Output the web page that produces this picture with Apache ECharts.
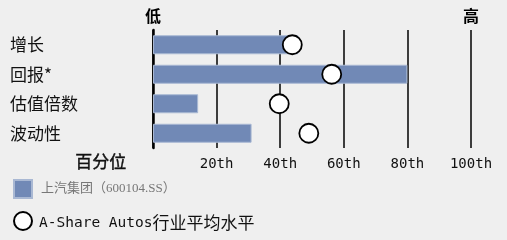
<!DOCTYPE html>
<html><head><meta charset="utf-8">
<script src="https://cdn.jsdelivr.net/npm/echarts@6/dist/echarts.min.js"></script>
<style>html,body{margin:0;padding:0;background:#efefef}#c{width:507px;height:240px}</style>
</head><body><div id="c"></div>
<script>
const categories = ['增长', '回报*', '估值倍数', '波动性'];
const companyValues = [45.7, 80, 14.2, 31];
const industryValues = [43.8, 56.2, 39.7, 49];
const tickLabels = {0: '', 20: '20th', 40: '40th', 60: '60th', 80: '80th', 100: '100th'};
const topLabels = {0: '低', 100: '高'};
const companyName = '上汽集团（600104.SS）';
const industryLatin = 'A-Share Autos';
const industryCjk = '行业平均水平';
const industryName = industryLatin + industryCjk;
const axisTitle = '百分位';

const chart = echarts.init(document.getElementById('c'));
chart.setOption({
  backgroundColor: '#efefef',
  animation: false,
  grid: {left: 153, right: 36, top: 30, bottom: 92},
  xAxis: [{
    type: 'value', min: 0, max: 100, interval: 20, position: 'bottom',
    axisLine: {show: false}, axisTick: {show: false},
    splitLine: {show: true, lineStyle: {color: '#000', width: 1.5}},
    axisLabel: {formatter: v => tickLabels[v] ?? '', color: '#111', fontSize: 14,
      fontFamily: 'DejaVu Sans Mono', margin: 9}
  }, {
    type: 'value', min: 0, max: 100, interval: 20, position: 'top',
    axisLine: {show: false}, axisTick: {show: false}, splitLine: {show: false},
    axisLabel: {formatter: v => topLabels[v] ?? '', color: '#000', fontSize: 16,
      fontWeight: 'bold', fontFamily: 'Noto Sans CJK SC', margin: 6}
  }],
  yAxis: {
    type: 'category', data: categories, inverse: true,
    axisLine: {show: true, lineStyle: {color: '#000', width: 2.5}},
    axisTick: {show: false},
    axisLabel: {show: true, align: 'left', margin: 143, color: '#111', fontSize: 17,
      fontFamily: 'Noto Sans CJK SC'}
  },
  legend: [{
    left: 8, top: 174, itemWidth: 18, itemHeight: 18,
    data: [{name: companyName, icon: 'rect'}],
    textStyle: {color: '#777', fontSize: 13, fontFamily: 'Liberation Serif, Noto Sans CJK SC', padding: [2, 0, 0, 4]}
  }, {
    left: 8, top: 206, itemWidth: 18, itemHeight: 18,
    data: [{name: industryName, icon: 'circle'}],
    formatter: () => '{a|' + industryLatin + '}{b|' + industryCjk + '}',
    textStyle: {color: '#111', padding: [4, 0, 0, 2],
      rich: {a: {fontSize: 14.5, fontFamily: 'DejaVu Sans Mono', color: '#111'},
             b: {fontSize: 17, fontFamily: 'Noto Sans CJK SC', color: '#111'}}}
  }],
  graphic: [{
    type: 'text', left: 75, top: 153,
    style: {text: axisTitle, fontSize: 17, fontFamily: 'Noto Sans CJK SC', fill: '#111',
      stroke: '#111', lineWidth: 0.4}
  }],
  series: [{
    name: companyName, type: 'bar', data: companyValues, barWidth: 19,
    itemStyle: {color: '#7189b6', borderColor: '#a9b8d3', borderWidth: 1}
  }, {
    name: industryName, type: 'scatter', data: industryValues.map((v, i) => [v, i]),
    symbol: 'circle', symbolSize: 19, z: 5,
    itemStyle: {color: '#fff', borderColor: '#000', borderWidth: 1.8, opacity: 1}
  }]
});
</script></body></html>
